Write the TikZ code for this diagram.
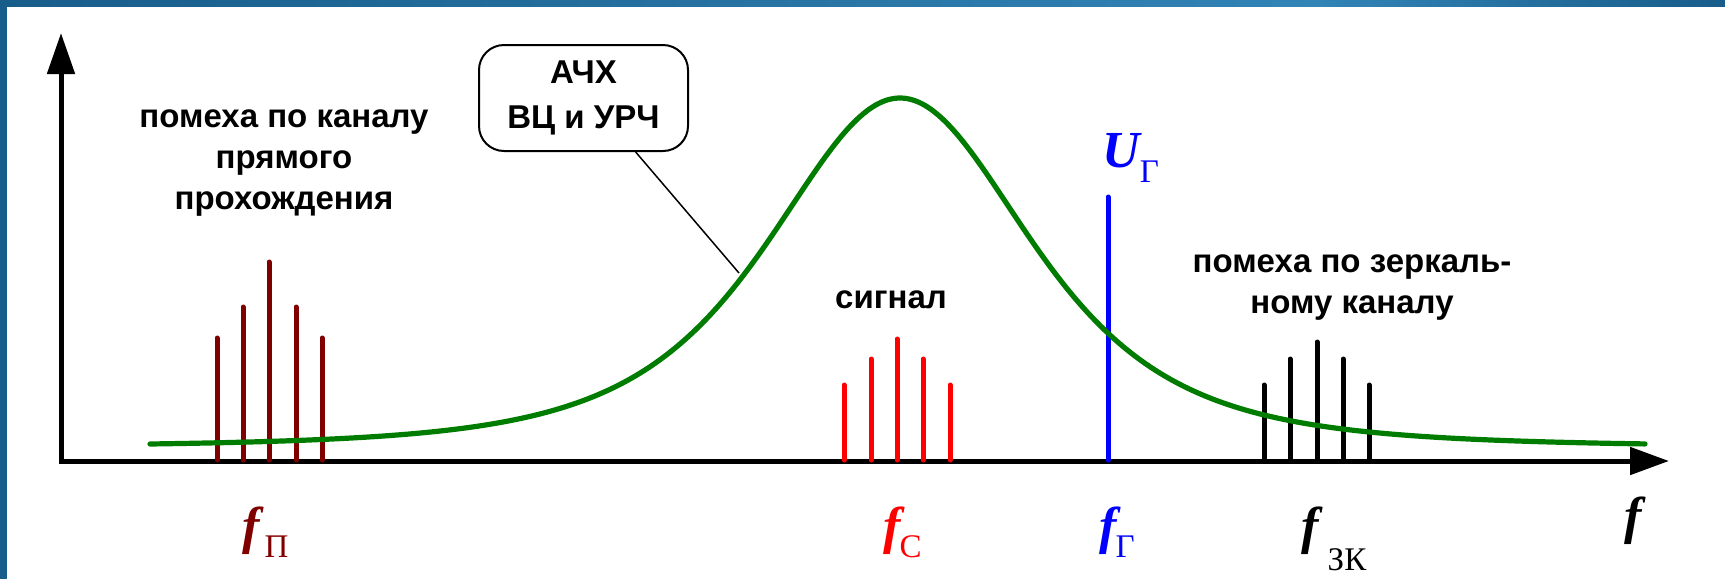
\documentclass[tikz,border=0pt]{standalone}
\usepackage{fontspec}
\setmainfont{Liberation Serif}
\newfontfamily\sansb{Liberation Sans}
\usetikzlibrary{arrows.meta}
\definecolor{frameA}{RGB}{24,92,138}
\definecolor{frameB}{RGB}{50,132,182}
\definecolor{curvegreen}{RGB}{0,125,0}
\definecolor{darkred}{RGB}{128,0,0}
\definecolor{pureblue}{RGB}{0,0,255}
\definecolor{purered}{RGB}{255,0,0}
\newcommand{\subl}[2]{\raisebox{-#2}{\fontsize{16.5}{18}\selectfont\mdseries\upshape #1}}
\begin{document}
\begin{tikzpicture}[x=0.5pt,y=-0.5pt,
  axisline/.style={line width=2.5pt, line join=miter},
  spike/.style={line width=2.5pt, line cap=round},
  resp/.style={curvegreen, line width=2.6pt, line cap=round},
  txt/.style={font=\sansb\bfseries\fontsize{16.5}{20.5}\selectfont, align=center, inner sep=0pt},
  boxtxt/.style={draw, rounded corners=12.5pt, line width=1pt, minimum width=104.5pt, minimum height=53pt,
     font=\sansb\bfseries\fontsize{16.5}{22.5}\selectfont, align=center, inner sep=0pt},
  flab/.style={font=\fontsize{26}{30}\selectfont\bfseries\itshape, inner sep=0pt, anchor=base west}]
\useasboundingbox (0,0) rectangle (1725,579);
\fill[white] (0,0) rectangle (1725,579);
% frame
\shade[left color=frameA, right color=frameB] (0,0) rectangle (1320,6);
\shade[left color=frameB, right color=frameA] (1319,0) rectangle (1725,6);
\fill[frameA] (0,0) rectangle (7,579);
% axes
\coordinate (ytip) at (61,33);
\coordinate (O) at (61,461);
\coordinate (xtip) at (1669,461);
\draw[axisline, {Triangle[length=20.5pt,width=13.5pt]}-{Triangle[length=19.5pt,width=13.5pt]}] (ytip) -- (O) -- (xtip);
% spikes
\foreach \x/\t in {217/338,243/307,269/262,296/307,322/338}
  \draw[spike, darkred] (\x,460) -- (\x,\t);
\foreach \x/\t in {844/385,871/359,897/339,923/359,950/385}
  \draw[spike, purered] (\x,460) -- (\x,\t);
\foreach \x/\t in {1264/385,1290/359,1317/342,1343/359,1369/385}
  \draw[spike, black] (\x,460) -- (\x,\t);
\coordinate (gbot) at (1108,460);
\coordinate (gtop) at (1108,197);
\draw[spike, pureblue] (gbot) -- (gtop);
% response curve
\draw[resp] plot[domain=150:1645, samples=240, smooth] (\x, {447-349/(1+((\x-900)/240)^2)^2});
% callout
\node[boxtxt] (box) at (583.5,98) {АЧХ\\ВЦ и УРЧ};
\coordinate (cl) at (739,273);
\draw[line width=0.75pt] (box.-46.7) -- (cl);
% texts
\node[txt, anchor=base] (tdirect) at (284,209) {помеха по каналу\\прямого\\прохождения};
\node[txt, anchor=base] (tsig) at (891,308) {сигнал};
\node[txt, anchor=base] (timage) at (1352,313) {помеха по зеркаль-\\ному каналу};
% frequency labels
\node[flab, darkred] (fp) at (242,543) {f\kern2.5pt\subl{П}{7pt}};
\node[flab, purered] (fc) at (883,543) {f\kern-0.5pt\subl{С}{7pt}};
\node[flab, pureblue] (fg) at (1099,543) {f\kern-0.5pt\subl{Г}{7pt}};
\node[flab, black] (fzk) at (1301,543) {f\kern4.5pt\subl{ЗК}{13.5pt}};
\node[flab, black] (fax) at (1624,533) {f};
\node[flab, pureblue] (ug) at (1102,167) {U\subl{Г}{7.5pt}};
\end{tikzpicture}
\end{document}
